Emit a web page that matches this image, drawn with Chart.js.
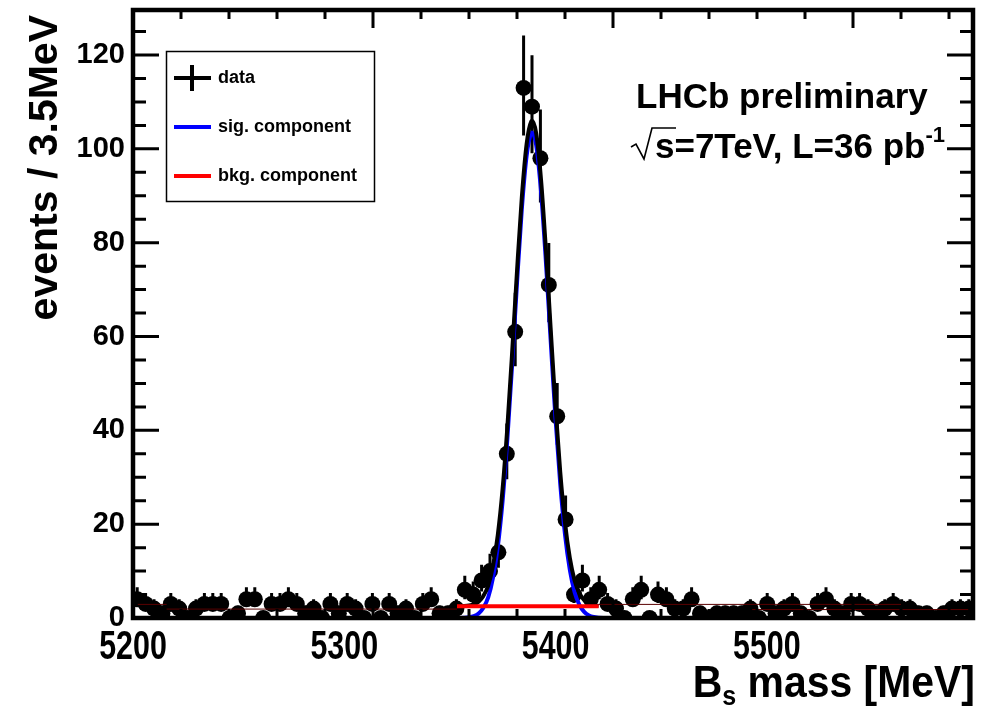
<!DOCTYPE html>
<html>
<head>
<meta charset="utf-8">
<title>Bs mass</title>
<script src="https://cdn.jsdelivr.net/npm/chart.js@4.4.1/dist/chart.umd.min.js"></script>
<style>
  body { margin: 0; background: #fff; }
  canvas { display: block; }
</style>
</head>
<body>
<canvas id="massPlot" width="981" height="710"></canvas>
<script>
// bin centres (3.5 MeV bins, 5200 - 5550 MeV)
var massBins = [5201.75, 5205.25, 5208.75, 5212.25, 5215.75, 5219.25, 5222.75, 5226.25, 5229.75, 5233.25,
  5236.75, 5240.25, 5243.75, 5247.25, 5250.75, 5254.25, 5257.75, 5261.25, 5264.75, 5268.25,
  5271.75, 5275.25, 5278.75, 5282.25, 5285.75, 5289.25, 5292.75, 5296.25, 5299.75, 5303.25,
  5306.75, 5310.25, 5313.75, 5317.25, 5320.75, 5324.25, 5327.75, 5331.25, 5334.75, 5338.25,
  5341.75, 5345.25, 5348.75, 5352.25, 5355.75, 5359.25, 5362.75, 5366.25, 5369.75, 5373.25,
  5376.75, 5380.25, 5383.75, 5387.25, 5390.75, 5394.25, 5397.75, 5401.25, 5404.75, 5408.25,
  5411.75, 5415.25, 5418.75, 5422.25, 5425.75, 5429.25, 5432.75, 5436.25, 5439.75, 5443.25,
  5446.75, 5450.25, 5453.75, 5457.25, 5460.75, 5464.25, 5467.75, 5471.25, 5474.75, 5478.25,
  5481.75, 5485.25, 5488.75, 5492.25, 5495.75, 5499.25, 5502.75, 5506.25, 5509.75, 5513.25,
  5516.75, 5520.25, 5523.75, 5527.25, 5530.75, 5534.25, 5537.75, 5541.25, 5544.75, 5548.25];

// events per bin
var counts = [4, 3, 2, 1, 3, 2, 0, 2, 3, 3,
  3, 0, 1, 4, 4, 0, 3, 3, 4, 3,
  1, 2, 0, 3, 1, 3, 2, 0, 3, 0,
  3, 1, 2, 0, 3, 4, 1, 1, 2, 6,
  5, 8, 10, 14, 35, 61, 113, 109, 98, 71,
  43, 21, 5, 8, 4, 6, 3, 2, 0, 4,
  6, 0, 5, 4, 2, 2, 4, 1, 0, 1,
  1, 1, 1, 2, 0, 3, 1, 2, 3, 1,
  0, 3, 4, 2, 1, 3, 3, 2, 1, 2,
  3, 2, 2, 1, 1, 0, 1, 2, 2, 2];

// signal component (blue)
var sigMass = [5200, 5330, 5336, 5340, 5342, 5344, 5346, 5348, 5350, 5352, 5354, 5356, 5358, 5360, 5362, 5364,
  5366, 5366.3, 5368, 5370, 5372, 5374, 5376, 5378, 5380, 5382, 5384, 5386, 5388, 5390, 5392, 5396, 5402, 5550];
var sigYield = [0, 0, 0.02, 0.16, 0.41, 0.98, 2.2, 4.4, 8.6, 15.2, 25.0, 38.3, 54.3, 71.4, 87.1, 98.5,
  103.4, 103.5, 100.8, 91.0, 76.3, 59.4, 42.8, 28.7, 17.8, 10.3, 5.5, 2.8, 1.3, 0.53, 0.21, 0.01, 0, 0];

// total fit (black), only drawn in the signal window
var totMass = [5335, 5338, 5340, 5342, 5344, 5346, 5348, 5350, 5352, 5354, 5356, 5358, 5360, 5362, 5364, 5366, 5366.3,
  5368, 5370, 5372, 5374, 5376, 5378, 5380, 5382, 5384, 5386, 5388, 5390, 5392, 5394];
var totYield = [2.52, 2.56, 2.66, 2.91, 3.48, 4.7, 6.9, 11.1, 17.7, 27.5, 40.8, 56.8, 73.9, 89.6, 101.0, 105.9, 106.0,
  103.3, 93.5, 78.8, 61.9, 45.3, 31.2, 20.3, 12.8, 8.0, 5.3, 3.8, 3.03, 2.71, 2.58];

// background component (red)
var bkgMass = [5335, 5394];
var bkgYield = [2.5, 2.5];

// thin dark lines along the baseline
var thinStart = [5202, 5214, 5394, 5458];
var thinEnd = [5214, 5335, 5520, 5548];
var thinLevel = [2.9, 1.9, 2.9, 1.8];

var xTickLabels = [5200, 5300, 5400, 5500];
var yTickLabels = [0, 20, 40, 60, 80, 100, 120];

var FONT = "'Liberation Sans', Arial, sans-serif";

function pts(xs, ys) {
  return xs.map(function (v, i) { return { x: v, y: ys[i] }; });
}

// vertical error bars on the data points
var errorBars = {
  id: 'errorBars',
  beforeDatasetsDraw: function (chart) {
    var ctx = chart.ctx, x = chart.scales.x, y = chart.scales.y, a = chart.chartArea;
    ctx.save();
    ctx.beginPath();
    ctx.rect(a.left, a.top, a.right - a.left, a.bottom - a.top);
    ctx.clip();
    ctx.strokeStyle = '#000';
    ctx.lineWidth = 3;
    ctx.beginPath();
    counts.forEach(function (n, i) {
      var s = Math.sqrt(n + 0.25);
      var px = x.getPixelForValue(massBins[i]);
      ctx.moveTo(px, y.getPixelForValue(Math.max(0, n + 0.5 - s)));
      ctx.lineTo(px, y.getPixelForValue(n + 0.5 + s));
    });
    ctx.stroke();
    ctx.restore();
  }
};

// ROOT style frame with inward ticks on all four sides
var frameTicks = {
  id: 'frameTicks',
  afterDatasetsDraw: function (chart) {
    var ctx = chart.ctx, x = chart.scales.x, y = chart.scales.y, a = chart.chartArea;
    ctx.save();
    ctx.strokeStyle = '#000';
    ctx.lineWidth = 3;
    ctx.beginPath();
    for (var m = 5200; m <= 5550; m += 20) {
      var px = x.getPixelForValue(m);
      var l = (m % 100 === 0) ? 18 : 9;
      ctx.moveTo(px, a.bottom); ctx.lineTo(px, a.bottom - l);
      ctx.moveTo(px, a.top); ctx.lineTo(px, a.top + l);
    }
    for (var v = 0; v <= 125; v += 5) {
      var py = y.getPixelForValue(v);
      var k = (v % 20 === 0) ? 26 : 13;
      ctx.moveTo(a.left, py); ctx.lineTo(a.left + k, py);
      ctx.moveTo(a.right, py); ctx.lineTo(a.right - k, py);
    }
    ctx.stroke();
    ctx.lineWidth = 4.5;
    ctx.strokeRect(a.left, a.top, a.right - a.left, a.bottom - a.top);
    ctx.restore();
  }
};

// tick labels of the mass axis, legend box, labels and titles
var annotations = {
  id: 'annotations',
  afterDraw: function (chart) {
    var ctx = chart.ctx, xl = chart.scales.xl;
    ctx.save();
    ctx.fillStyle = '#000';
    ctx.strokeStyle = '#000';

    // mass axis labels (condensed bold)
    ctx.textAlign = 'center';
    ctx.textBaseline = 'alphabetic';
    ctx.font = 'bold 40px ' + FONT;
    xTickLabels.forEach(function (v) {
      ctx.save();
      ctx.translate(xl.getPixelForValue(v), 659);
      ctx.scale(0.76, 1);
      ctx.fillText(String(v), 0, 0);
      ctx.restore();
    });

    // legend
    ctx.lineWidth = 1.5;
    ctx.strokeRect(166.5, 51.5, 208, 150);
    ctx.lineWidth = 4;
    ctx.beginPath();
    ctx.moveTo(174, 78); ctx.lineTo(211, 78);
    ctx.moveTo(192, 65); ctx.lineTo(192, 91);
    ctx.stroke();
    ctx.strokeStyle = '#0000ff';
    ctx.beginPath(); ctx.moveTo(174, 127); ctx.lineTo(211, 127); ctx.stroke();
    ctx.strokeStyle = '#ff0000';
    ctx.beginPath(); ctx.moveTo(174, 176); ctx.lineTo(211, 176); ctx.stroke();
    ctx.font = 'bold 18px ' + FONT;
    ctx.textBaseline = 'middle';
    ctx.textAlign = 'left';
    ctx.fillText('data', 218, 78);
    ctx.fillText('sig. component', 218, 127);
    ctx.fillText('bkg. component', 218, 176);

    // LHCb label
    ctx.textBaseline = 'alphabetic';
    ctx.font = 'bold 35px ' + FONT;
    ctx.fillText('LHCb preliminary', 636, 108);
    var main = 's=7TeV, L=36 pb';
    ctx.fillText(main, 655, 158);
    var w = ctx.measureText(main).width;
    ctx.font = 'bold 22px ' + FONT;
    ctx.fillText('-1', 655 + w, 142);
    ctx.strokeStyle = '#000';
    ctx.lineWidth = 1.6;
    ctx.beginPath();
    ctx.moveTo(631, 147); ctx.lineTo(636, 144); ctx.lineTo(644, 159);
    ctx.lineTo(652, 128); ctx.lineTo(676, 128);
    ctx.stroke();

    // y title
    ctx.save();
    ctx.translate(46, 15);
    ctx.rotate(-Math.PI / 2);
    ctx.font = 'bold 41px ' + FONT;
    ctx.textAlign = 'right';
    ctx.textBaseline = 'middle';
    ctx.fillText('events / 3.5MeV', 0, 0);
    ctx.restore();

    // x title with subscript, condensed
    ctx.save();
    ctx.translate(975, 697);
    ctx.scale(0.93, 1);
    ctx.font = 'bold 44px ' + FONT;
    var t1 = 'B', t3 = ' mass [MeV]';
    var w1 = ctx.measureText(t1).width, w3 = ctx.measureText(t3).width;
    ctx.font = 'bold 27px ' + FONT;
    var w2 = ctx.measureText('s').width;
    var x0 = -(w1 + w2 + w3);
    ctx.textAlign = 'left';
    ctx.fillText('s', x0 + w1, 8);
    ctx.font = 'bold 44px ' + FONT;
    ctx.fillText(t1, x0, 0);
    ctx.fillText(t3, x0 + w1 + w2, 0);
    ctx.restore();
    ctx.restore();
  }
};

var datasets = [
  { label: 'bkg. component', type: 'line', data: pts(bkgMass, bkgYield), borderColor: '#ff0000',
    borderWidth: 4, pointRadius: 0, order: 1, clip: 0 },
  { label: 'total', type: 'line', data: pts(totMass, totYield), borderColor: '#000000',
    borderWidth: 4, pointRadius: 0, cubicInterpolationMode: 'monotone', order: 2, clip: 0 },
  { label: 'sig. component', type: 'line', data: pts(sigMass, sigYield), borderColor: '#0000ff',
    borderWidth: 4, pointRadius: 0, cubicInterpolationMode: 'monotone', order: 3, clip: 0 },
  { label: 'data', type: 'scatter', data: pts(massBins, counts), backgroundColor: '#000',
    borderColor: '#000', pointRadius: 8, borderWidth: 0, order: 6, clip: 0 }
];
thinStart.forEach(function (s, i) {
  datasets.push({ label: 'thin' + i, type: 'line', data: pts([s, thinEnd[i]], [thinLevel[i], thinLevel[i]]),
    borderColor: '#5a0000', borderWidth: 1, pointRadius: 0, order: 4, clip: 0 });
});

new Chart(document.getElementById('massPlot'), {
  type: 'scatter',
  data: { datasets: datasets },
  options: {
    responsive: false,
    animation: false,
    devicePixelRatio: 1,
    layout: { padding: { top: 10, right: 5, left: 0, bottom: 92 } },
    plugins: { legend: { display: false }, tooltip: { enabled: false } },
    scales: {
      x: { type: 'linear', min: 5200, max: 5550, display: false },
      // label axis: the printed labels sit on a 5200 - 5598 span
      xl: { type: 'linear', position: 'bottom', min: 5200, max: 5597.6, display: false },
      y: {
        type: 'linear', min: 0, max: 129.6,
        afterBuildTicks: function (s) { s.ticks = yTickLabels.map(function (v) { return { value: v }; }); },
        afterFit: function (s) { s.width = 133; s.paddingTop = 0; s.paddingBottom = 0; },
        grid: { display: false, drawTicks: false },
        border: { display: false },
        ticks: { font: { family: FONT, weight: 'bold', size: 29 }, color: '#000', padding: 8,
          callback: function (v) { return String(v); } }
      }
    }
  },
  plugins: [errorBars, frameTicks, annotations]
});
</script>
</body>
</html>
